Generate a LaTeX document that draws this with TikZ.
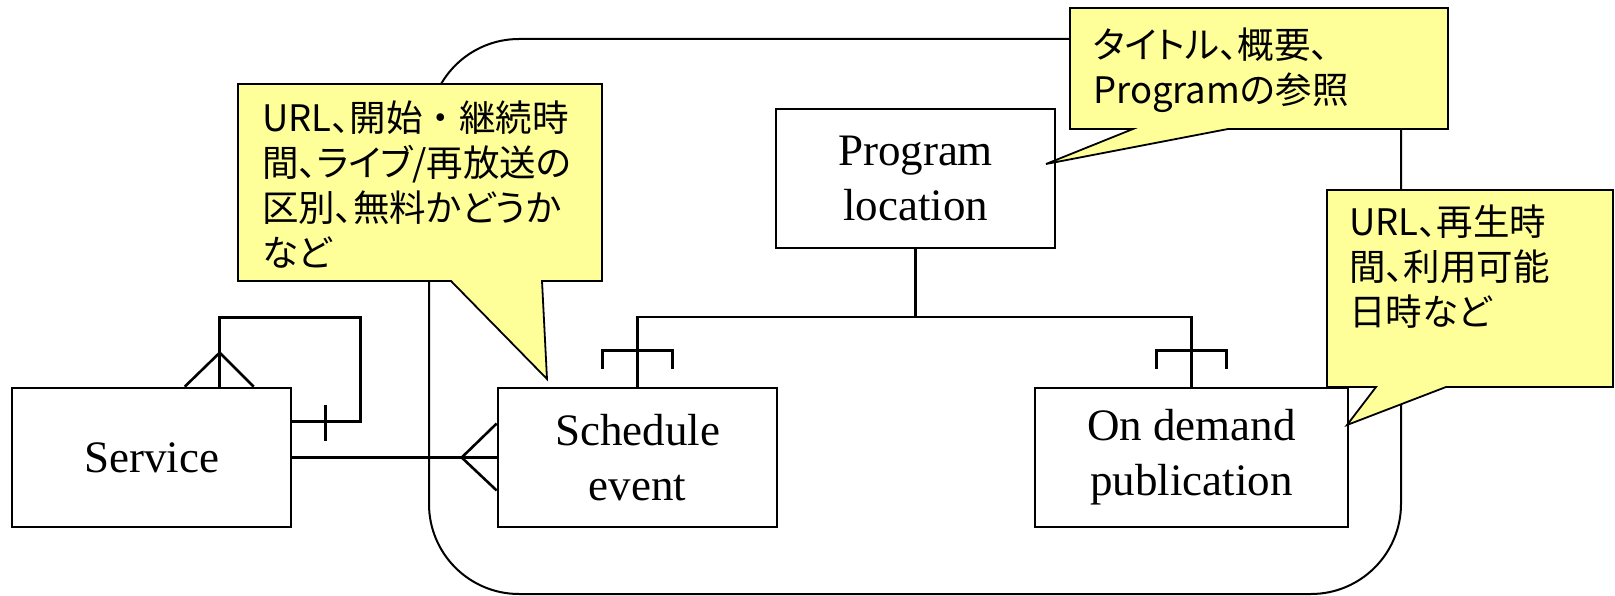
\documentclass[tikz,border=0pt]{standalone}
\usepackage{fontspec}
\setmainfont{Liberation Serif}
\newfontfamily\jp[RawFeature=+palt]{Noto Sans CJK JP}
\newfontfamily\jpfull{Noto Sans CJK JP}
\usetikzlibrary{calc}
\definecolor{calloutyellow}{RGB}{255,255,153}
\tikzset{
  entity/.style={draw, line width=2.6pt, fill=white, minimum width=279pt, minimum height=139pt,
    align=center, inner sep=0pt, font=\fontsize{45}{55}\selectfont},
  rel/.style={line width=2.6pt},
  frameline/.style={line width=2pt, rounded corners=90pt},
  callout/.style={draw, line width=1.8pt, fill=calloutyellow, line join=miter},
  note/.style={anchor=north west, align=left, inner sep=0pt, font=\jp\fontsize{36.5}{45}\selectfont},
}
\begin{document}
\begin{tikzpicture}[x=1pt, y=-1pt]
\useasboundingbox (0,0) rectangle (1615,596);
% surrounding rounded frame
\draw[frameline] (429,39) rectangle (1401,594);
% entities
\node[entity] (service) at (151.5,457.5) {Service};
\node[entity] (sched) at (637.5,457.5) {Schedule\\event};
\node[entity, minimum width=313pt] (ondemand) at (1191.5,457.5) {On demand\\publication};
\node[entity] (progloc) at (915.5,178.5) {Program\\location};
% Program location -> children
\coordinate (junc) at (915.5,317);
\draw[rel] (progloc.south) -- (junc);
\draw[rel] (sched.north) |- (junc) -| (ondemand.north);
\draw[rel] ($(sched.north)+(-35,-18)$) -- ++(0,-18) -- ++(70,0) -- ++(0,18);
\draw[rel] ($(ondemand.north)+(-35,-18)$) -- ++(0,-18) -- ++(70,0) -- ++(0,18);
% Service -> Schedule event
\draw[rel] (service.east) -- (sched.west);
\draw[rel] ($(sched.west)+(0,-34)$) -- ($(sched.west)+(-35,0)$) -- ($(sched.west)+(0,33)$);
% Service self relation
\coordinate (loopa) at ($(service.north west)+(209,-69)$);
\coordinate (loopb) at ($(service.north east)+(68,35)$);
\draw[rel] ($(service.north west)+(209,0)$) -- (loopa) -| (loopb) -- ($(service.north east)+(0,35)$);
\draw[rel] ($(service.north east)+(33,18)$) -- ++(0,36);
\draw[rel] ($(service.north west)+(174,0)$) -- ($(service.north west)+(209,-34)$) -- ($(service.north west)+(243,0)$);
% callouts
\draw[callout] (238,84) -- (602,84) -- (602,281) -- (542,281) -- (547,379) -- (451,281) -- (238,281) -- cycle;
\draw[callout] (1070,8) -- (1448,8) -- (1448,129) -- (1228,129) -- (1046,164) -- (1133,129) -- (1070,129) -- cycle;
\draw[callout] (1327,190) -- (1613,190) -- (1613,387) -- (1446,387) -- (1347,425) -- (1376,387) -- (1327,387) -- cycle;
\node[note] (n1) at (262,101) {URL、開始{\jpfull ・}継続時\\間、ライブ/再放送の\\区別、無料かどうか\\など};
\node[note] (n2) at (1093,28) {タイトル、概要、\\Programの参照};
\node[note] (n3) at (1349,205) {URL、再生時\\間、利用可能\\日時など};
\end{tikzpicture}
\end{document}
